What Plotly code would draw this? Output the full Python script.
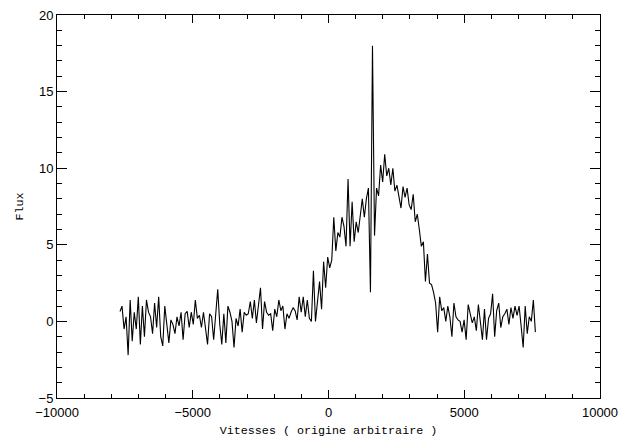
import plotly.graph_objects as go

# Velocity grid (km/s) : start and step
x_start = -7680
x_step = 75

flux = [
    0.65, 1.0, -0.5, 0.3, -2.2, 1.4, -1.3, 0.6, -0.5, 1.6,
    -1.5, 1.0, -1.0, 1.4, 0.6, 0.3, -0.8, 1.2, -0.4, 1.6,
    -1.0, -1.6, 1.0, -0.3, -1.4, 0.1, -0.2, -0.8, 0.3, -0.3,
    0.6, -1.2, 0.5, 0.65, -0.4, 0.6, -0.2, 1.4, 0.2, 0.4,
    -0.4, 0.6, -0.3, -1.5, 0.5, 0.3, -1.2, 0.8, 2.1, -0.2,
    -1.5, 0.5, -1.4, 1.0, 0.6, 0.0, -1.7, 0.2, -0.3, 0.8,
    -0.7, 0.6, 0.4, 0.5, 1.3, 0.2, 1.4, -0.1, 0.9, 2.2,
    -0.5, 1.3, 0.6, 0.4, 0.5, -0.6, 0.8, 0.3, 1.4, 0.7,
    1.0, -0.5, 0.5, 0.2, 0.6, 0.9, 0.7, 0.1, 1.6, 0.6,
    1.6, 0.3, 1.4, 0.2, 0.0, 3.3, 0.0, 1.5, 2.6, 0.8,
    3.9, 2.2, 4.2, 3.5, 4.0, 6.8, 4.6, 5.8, 5.5, 6.8,
    6.2, 4.9, 9.3, 4.9, 7.8, 5.2, 6.5, 5.8, 7.0, 8.0,
    6.8, 8.0, 8.7, 1.9, 18.0, 5.6, 8.7, 8.2, 10.2, 9.1,
    10.9, 9.5, 10.0, 8.9, 10.0, 8.5, 8.9, 8.0, 7.4, 8.8,
    8.1, 8.7, 7.6, 7.3, 8.3, 6.5, 7.0, 6.0, 4.9, 5.2,
    2.6, 4.4, 2.5, 2.4, 1.9, 1.2, -0.7, 1.6, 0.7, 0.9,
    0.0, 1.0, 0.3, -1.0, 1.2, 0.3, 0.1, 0.0, -0.7, 0.1,
    -1.2, 1.1, 0.4, -0.1, 0.3, -0.6, 1.1, 0.1, -1.2, 0.8,
    -1.2, 0.2, 0.5, 1.8, -1.0, 0.7, 1.2, -0.4, 0.3, 0.5,
    0.8, -0.2, 0.9, 0.2, 1.0, 0.4, 1.0, -0.3, -1.7, 1.0,
    -0.8, 0.3, 0.0, 1.4, -0.7,
]
velocity = [x_start + x_step * i for i in range(len(flux))]

x_title = "Vitesses ( origine arbitraire )"
y_title = "Flux"

fig = go.Figure()
fig.add_trace(go.Scatter(x=velocity, y=flux, mode="lines",
                         line=dict(color="black", width=1.1),
                         showlegend=False, hoverinfo="skip"))

tick_font = dict(family="Liberation Sans, Arial, sans-serif", size=13, color="black")
title_font = dict(family="Liberation Mono, Courier New, monospace", size=11.7, color="black")

fig.update_layout(
    width=619, height=438,
    margin=dict(l=57, r=19, t=15, b=40),
    paper_bgcolor="white", plot_bgcolor="white",
    xaxis=dict(range=[-10000, 10000], tickmode="linear", tick0=-10000, dtick=5000,
               tickformat="d", exponentformat="none", automargin=False,
               ticks="inside", ticklen=8, tickwidth=1, tickcolor="black",
               minor=dict(dtick=1000, ticks="inside", ticklen=4, tickwidth=1, tickcolor="black"),
               showline=True, linecolor="black", linewidth=1, mirror="ticks",
               showgrid=False, zeroline=False, tickfont=tick_font, ticklabelstandoff=2,
               title=dict(text=x_title, font=title_font, standoff=10)),
    yaxis=dict(range=[-5, 20], tickmode="linear", tick0=-5, dtick=5, automargin=False,
               ticks="inside", ticklen=10, tickwidth=1, tickcolor="black",
               minor=dict(dtick=1, ticks="inside", ticklen=5, tickwidth=1, tickcolor="black"),
               showline=True, linecolor="black", linewidth=1, mirror="ticks",
               showgrid=False, zeroline=False, tickfont=tick_font,
               title=dict(text=y_title, font=title_font, standoff=12)),
)

fig.write_html("out.html")
